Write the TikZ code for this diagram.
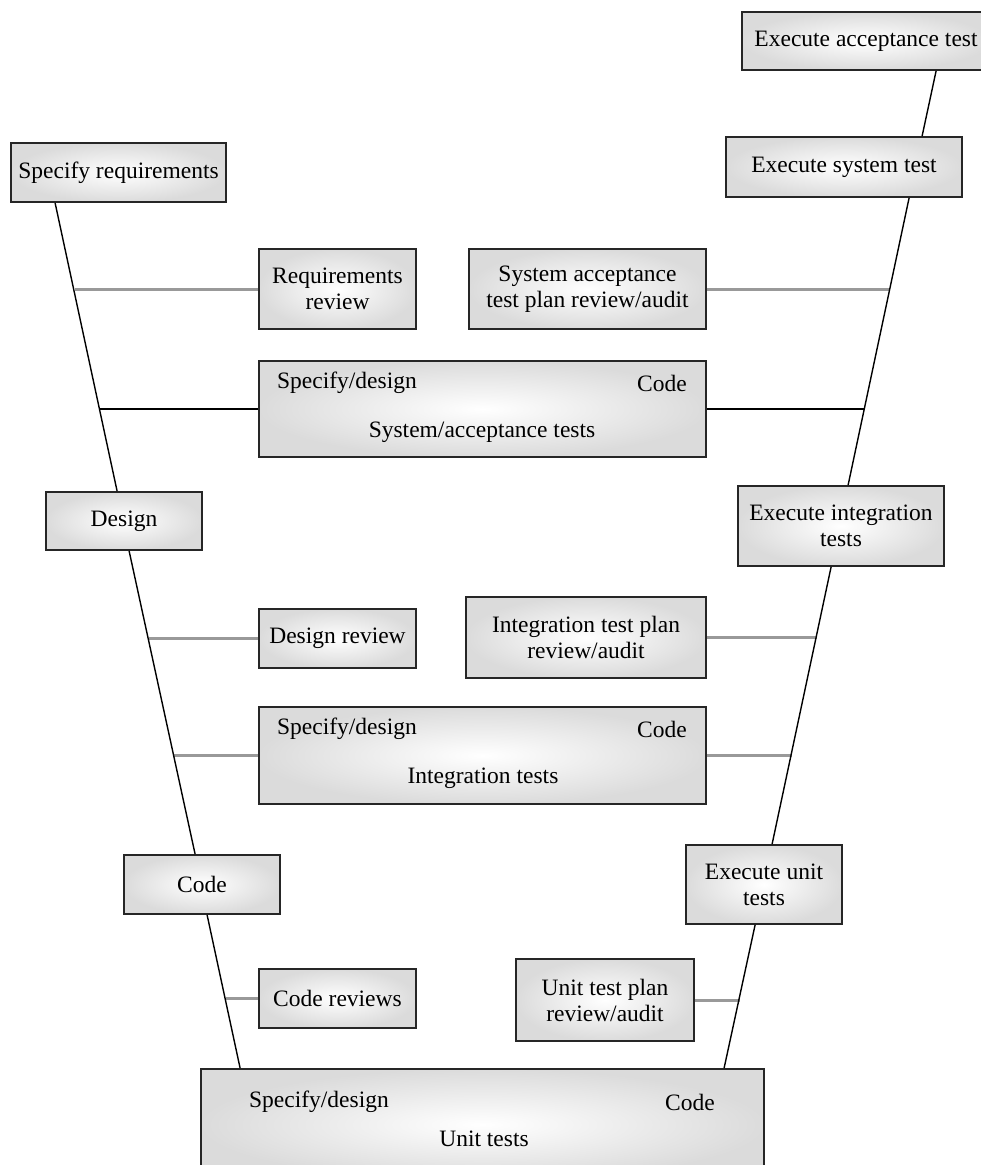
\documentclass[tikz,border=0pt]{standalone}
\usepackage{fontspec}
\setmainfont{Liberation Serif}
\usetikzlibrary{calc}
\begin{document}
\begin{tikzpicture}[x=1pt,y=-1pt,
  box/.style={draw=black!85, line width=1.8pt, inner color=white, outer color=black!14,
    align=center, font=\fontsize{23.5}{26}\selectfont, inner sep=0pt},
  lbl/.style={font=\fontsize{23.5}{26}\selectfont, inner sep=0pt},
  vline/.style={draw=black, line width=1.4pt},
  gline/.style={draw=black!40, line width=3pt},
  bline/.style={draw=black, line width=1.8pt}]
\path[use as bounding box] (0,0) rectangle (981,1165);
\clip (0,0) rectangle (981,1165);

% boxes
\node[box, minimum width=248pt, minimum height=58pt] (ea) at (866,41) {Execute acceptance test};
\node[box, minimum width=236pt, minimum height=60pt] (es) at (844,167) {Execute system test};
\node[box, minimum width=215pt, minimum height=59pt] (sr) at (118.5,172.5) {Specify requirements};
\node[box, minimum width=157pt, minimum height=80pt] (rr) at (337.5,289) {Requirements\\review};
\node[box, minimum width=237pt, minimum height=80pt] (sp) at (587.5,289) {System acceptance\\test plan review/audit};
\node[box, minimum width=447pt, minimum height=96pt] (sa) at (482.5,409) {};
\node[box, minimum width=156pt, minimum height=58pt] (de) at (124,521) {Design};
\node[box, minimum width=206pt, minimum height=80pt] (ei) at (841,526) {Execute integration\\tests};
\node[box, minimum width=157pt, minimum height=59pt] (dr) at (337.5,638.5) {Design review};
\node[box, minimum width=240pt, minimum height=81pt] (ip) at (586,637.5) {Integration test plan\\review/audit};
\node[box, minimum width=447pt, minimum height=97pt] (it) at (482.5,755.5) {};
\node[box, minimum width=156pt, minimum height=59pt] (co) at (202,884.5) {Code};
\node[box, minimum width=156pt, minimum height=79pt] (eu) at (764,884.5) {Execute unit\\tests};
\node[box, minimum width=157pt, minimum height=59pt] (cr) at (337.5,998.5) {Code reviews};
\node[box, minimum width=178pt, minimum height=82pt] (up) at (605,1000) {Unit test plan\\review/audit};
\node[box, minimum width=563pt, minimum height=111pt] (ut) at (482.5,1124.5) {};

% labels inside the wide boxes
\node[lbl] (sa1) at (347,383) {Specify/design};
\node[lbl] (sa2) at (662,383) {Code};
\node[lbl] (sa3) at (482,432) {System/acceptance tests};
\node[lbl] (it1) at (347,729) {Specify/design};
\node[lbl] (it2) at (662,729) {Code};
\node[lbl] (it3) at (483,778) {Integration tests};
\node[lbl] (ut1) at (319,1102) {Specify/design};
\node[lbl] (ut2) at (690,1102) {Code};
\node[lbl] (ut3) at (484,1139) {Unit tests};

% points on the V lines
\coordinate (l1) at (74.5,289);
\coordinate (r1) at (889.7,289);
\coordinate (l2) at (100.1,409);
\coordinate (r2) at (865.2,409);
\coordinate (l3) at (149,638.5);
\coordinate (r3) at (816.5,637.5);
\coordinate (l4) at (173.9,755.5);
\coordinate (r4) at (791.7,755.5);
\coordinate (l5) at (225.7,998.5);
\coordinate (r5) at (739.7,1000);

% horizontal connectors
\draw[gline] (l1) -- (rr.west);
\draw[gline] (sp.east) -- (r1);
\draw[bline] (l2) -- (sa.west);
\draw[bline] (sa.east) -- (r2);
\draw[gline] (l3) -- (dr.west);
\draw[gline] (ip.east) -- (r3);
\draw[gline] (l4) -- (it.west);
\draw[gline] (it.east) -- (r4);
\draw[gline] (l5) -- (cr.west);
\draw[gline] (up.east) -- (r5);

% V lines
\draw[vline] ([xshift=45pt]sr.south west) -- ([xshift=72pt]de.north west);
\draw[vline] ([xshift=84pt]de.south west) -- ([xshift=72pt]co.north west);
\draw[vline] ([xshift=84pt]co.south west) -- ([xshift=40pt]ut.north west);
\draw[vline] ([xshift=195pt]ea.south west) -- ([xshift=197pt]es.north west);
\draw[vline] ([xshift=184pt]es.south west) -- ([xshift=111pt]ei.north west);
\draw[vline] ([xshift=94pt]ei.south west) -- ([xshift=87pt]eu.north west);
\draw[vline] ([xshift=70pt]eu.south west) -- ([xshift=524pt]ut.north west);
\end{tikzpicture}
\end{document}
